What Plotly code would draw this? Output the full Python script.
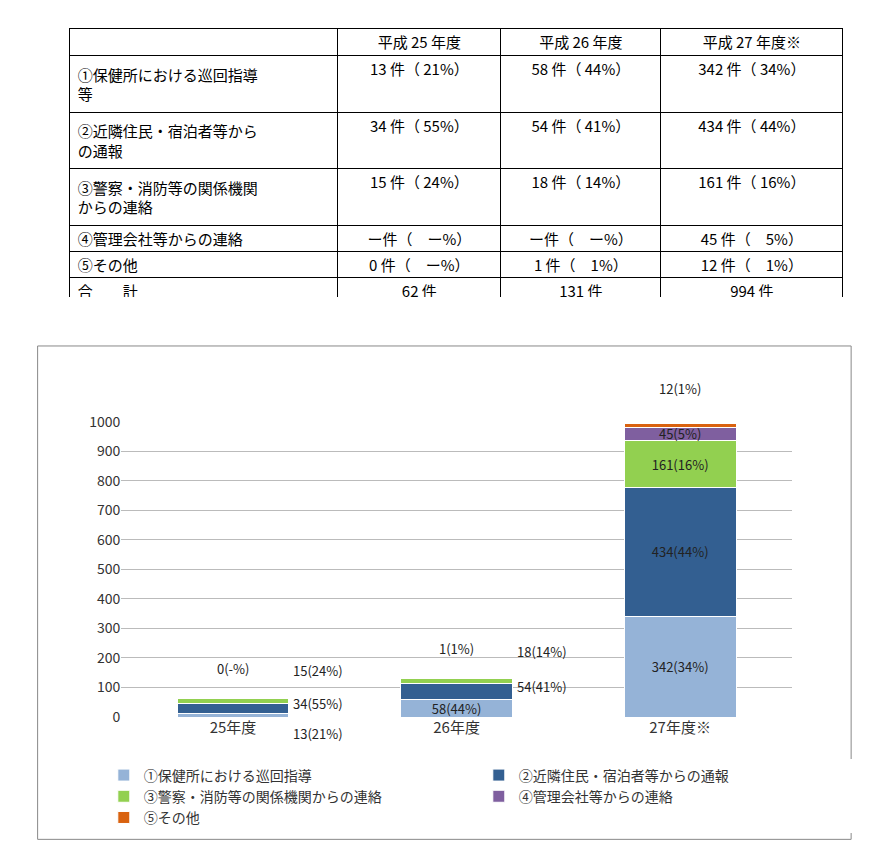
import plotly.graph_objects as go

# table
header = ["", "平成 25 年度", "平成 26 年度", "平成 27 年度※"]
row_labels = ["①保健所における巡回指導<br>等", "②近隣住民・宿泊者等から<br>の通報", "③警察・消防等の関係機関<br>からの連絡",
              "④管理会社等からの連絡", "⑤その他", "合　　計"]
col25 = ["13 件（ 21%）", "34 件（ 55%）", "15 件（ 24%）", "ー件（　ー%）", "0 件（　ー%）", "62 件"]
col26 = ["58 件（ 44%）", "54 件（ 41%）", "18 件（ 14%）", "ー件（　ー%）", "1 件（　1%）", "131 件"]
col27 = ["342 件（ 34%）", "434 件（ 44%）", "161 件（ 16%）", "45 件（　5%）", "12 件（　1%）", "994 件"]

# chart
years = ["25年度", "26年度", "27年度※"]
names = ["①保健所における巡回指導", "②近隣住民・宿泊者等からの通報", "③警察・消防等の関係機関からの連絡",
         "④管理会社等からの連絡", "⑤その他"]
values = [[13, 58, 342], [34, 54, 434], [15, 18, 161], [0, 0, 45], [0, 1, 12]]
labels = [["13(21%)", "58(44%)", "342(34%)"], ["34(55%)", "54(41%)", "434(44%)"],
          ["15(24%)", "18(14%)", "161(16%)"], ["", "", "45(5%)"], ["0(-%)", "1(1%)", "12(1%)"]]
inside = [[False, True, True], [False, False, True], [False, False, True],
          [False, False, True], [False, False, False]]
colors = ["#95b3d7", "#335f91", "#92d050", "#7f5f9f", "#d9620f"]

FONT = "Noto Sans CJK JP"
fig = go.Figure()

fig.add_trace(go.Table(
    domain=dict(x=[0.071, 0.959], y=[0.665, 0.988]),
    columnwidth=[268, 163, 160, 182],
    header=dict(values=header, height=27, align=["left", "center"], line_color="black",
                fill_color="white", font=dict(family=FONT, size=15, color="black")),
    cells=dict(values=[row_labels, col25, col26, col27], height=26, align=["left", "center"],
               line_color="black", fill_color="white", font=dict(family=FONT, size=15, color="black")),
))

for i in range(5):
    txt = [labels[i][j] if inside[i][j] else "" for j in range(3)]
    fig.add_trace(go.Bar(x=years, y=values[i], name=names[i], marker_color=colors[i],
                         marker_line=dict(color="white", width=1),
                         text=txt, textposition="inside", insidetextanchor="middle",
                         textfont=dict(size=13, color="#222")))

# outside labels for small segments
offsets = {0: (85, -18), 1: (85, 5), 2: (85, 30), 4: (0, 30)}
for j in range(2):
    cum = 0
    for i in range(5):
        cum += values[i][j]
        if i in offsets and not inside[i][j]:
            dx, dy = offsets[i]
            y = cum - values[i][j] / 2
            fig.add_annotation(x=years[j], y=y, text=labels[i][j], showarrow=False,
                               xshift=dx, yshift=dy, font=dict(size=13, color="#222"))
fig.add_annotation(x=years[2], y=sum(v[2] for v in values), text=labels[4][2], showarrow=False,
                   yshift=35, font=dict(size=13, color="#222"))

fig.add_shape(type="rect", xref="paper", yref="paper", x0=0.034, x1=0.968, y0=0.014, y1=0.607,
              line=dict(color="#888", width=1))

fig.update_layout(
    width=871, height=852, barmode="stack", bargap=0.5,
    margin=dict(l=0, r=0, t=0, b=0),
    paper_bgcolor="white", plot_bgcolor="white",
    font=dict(family=FONT, size=14, color="#333"),
    uniformtext=dict(minsize=12, mode="show"),
    xaxis=dict(domain=[0.13, 0.9], tickfont=dict(size=15)),
    yaxis=dict(domain=[0.161, 0.516], range=[0, 1000], dtick=100, showgrid=True,
               gridcolor="#bbb", tickfont=dict(size=14), zeroline=False),
    legend=dict(orientation="h", x=0.11, y=0.11, yanchor="top", entrywidth=330,
                font=dict(size=14), traceorder="normal"),
)

fig.write_html("out.html")
